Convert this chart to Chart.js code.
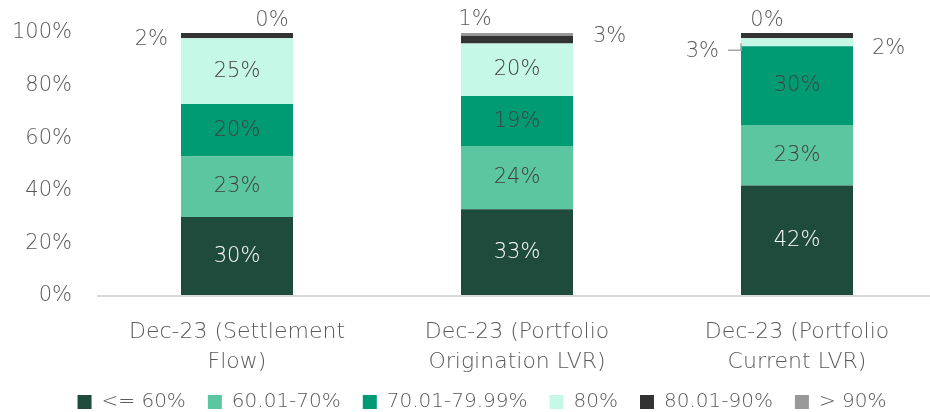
<!DOCTYPE html>
<html>
<head>
<meta charset="utf-8">
<script src="https://cdn.jsdelivr.net/npm/chart.js@4.4.1/dist/chart.umd.min.js"></script>
<style>
  html, body { margin: 0; padding: 0; overflow: hidden; background: #ffffff; width: 930px; height: 412px; }
  #wrap { position: absolute; left: 0; top: 0; width: 937px; height: 422px; }
</style>
</head>
<body>
<div id="wrap"><canvas id="c" width="937" height="422"></canvas></div>
<script>
// ---- data ----
const categories = [
  ['Dec-23 (Settlement', 'Flow)'],
  ['Dec-23 (Portfolio', 'Origination LVR)'],
  ['Dec-23 (Portfolio', 'Current LVR)']
];
const seriesNames = ['<= 60%', '60.01-70%', '70.01-79.99%', '80%', '80.01-90%', '> 90%'];
const lvrUpTo60   = [30, 33, 42];
const lvr60to70   = [23, 24, 23];
const lvr70to80   = [20, 19, 30];
const lvr80       = [25, 20, 3];
const lvr80to90   = [2, 3, 2];
const lvrOver90   = [0, 1, 0];
const yTickValues = [0, 20, 40, 60, 80, 100];

// ---- styling ----
const seriesColors = ['#1f4b3d', '#5cc6a0', '#009a73', '#c6f8e8', '#333333', '#999999'];
const insideTextColors = ['#ffffff', '#404040', '#404040', '#404040', '#404040', '#404040'];
const FONT = '"DejaVu Sans", sans-serif';
const TEXT = '#595959';

// placement of the small outside labels (relative to the bar element)
const outsideLabels = [
  {ds: 4, i: 0, ref: 'left',   dx: -13, dy: 4,   align: 'right'},
  {ds: 5, i: 0, ref: 'center', dx: 35,  dy: -12, align: 'center'},
  {ds: 5, i: 1, ref: 'center', dx: -42, dy: -15, align: 'center'},
  {ds: 4, i: 1, ref: 'right',  dx: 20,  dy: -3,  align: 'left'},
  {ds: 5, i: 2, ref: 'center', dx: -30, dy: -12, align: 'center'},
  {ds: 3, i: 2, ref: 'left',   dx: -22, dy: 9,   align: 'right', leader: true},
  {ds: 4, i: 2, ref: 'right',  dx: 19,  dy: 13,  align: 'left'}
];

const seriesData = [lvrUpTo60, lvr60to70, lvr70to80, lvr80, lvr80to90, lvrOver90];

const datasets = seriesNames.map((name, k) => ({
  label: name,
  data: seriesData[k],
  backgroundColor: seriesColors[k],
  borderWidth: 0,
  categoryPercentage: 0.4,
  barPercentage: 1.0
}));

const labelPlugin = {
  id: 'segLabels',
  afterDatasetsDraw(chart) {
    const ctx = chart.ctx;
    ctx.save();
    ctx.font = '200 21px ' + FONT;
    ctx.textBaseline = 'middle';
    chart.data.datasets.forEach((ds, k) => {
      const meta = chart.getDatasetMeta(k);
      meta.data.forEach((bar, i) => {
        const v = ds.data[i];
        if (v < 5) return;
        const cy = (bar.y + bar.base) / 2;
        ctx.fillStyle = insideTextColors[k];
        ctx.textAlign = 'center';
        ctx.fillText(v + '%', bar.x, cy);
      });
    });
    outsideLabels.forEach(p => {
      const bar = chart.getDatasetMeta(p.ds).data[p.i];
      const v = chart.data.datasets[p.ds].data[p.i];
      const half = bar.width / 2;
      const refX = p.ref === 'left' ? bar.x - half : (p.ref === 'right' ? bar.x + half : bar.x);
      const cy = (bar.y + bar.base) / 2;
      ctx.fillStyle = TEXT;
      ctx.textAlign = p.align;
      ctx.fillText(v + '%', refX + p.dx, cy + p.dy);
      if (p.leader) {
        ctx.strokeStyle = '#a6a6a6';
        ctx.lineWidth = 1.5;
        ctx.beginPath();
        ctx.moveTo(refX - 13, cy + 8);
        ctx.lineTo(refX, cy + 8);
        ctx.lineTo(refX, cy + 1);
        ctx.stroke();
      }
    });
    ctx.restore();
  }
};

new Chart(document.getElementById('c'), {
  type: 'bar',
  data: { labels: categories, datasets },
  plugins: [labelPlugin],
  options: {
    responsive: false,
    animation: false,
    devicePixelRatio: 1,
    layout: { padding: { left: 27, right: 0, top: 33, bottom: 0 } },
    plugins: {
      legend: {
        position: 'bottom',
        labels: {
          boxWidth: 14,
          boxHeight: 14,
          padding: 22,
          color: TEXT,
          font: { family: FONT, size: 20, weight: '200' }
        }
      },
      tooltip: { enabled: false }
    },
    scales: {
      x: {
        stacked: true,
        grid: { display: false },
        border: { display: false },
        ticks: {
          color: TEXT,
          padding: 13,
          maxRotation: 0,
          font: { family: FONT, size: 22, weight: '200', lineHeight: 1.36 }
        },
        afterFit(scale) {
          scale.height = 74;
          scale._computeLabelArea = () => undefined;
        }
      },
      y: {
        stacked: true,
        min: 0,
        max: 100,
        afterBuildTicks(scale) { scale.ticks = yTickValues.map(v => ({ value: v })); },
        grid: {
          drawTicks: false,
          lineWidth: 2,
          color: c => (c.tick && c.tick.value === 0 ? '#d9d9d9' : 'rgba(0,0,0,0)')
        },
        border: { display: false },
        ticks: {
          color: TEXT,
          padding: 25,
          font: { family: FONT, size: 21, weight: '200' },
          callback: v => v + '%'
        },
        afterFit(scale) {
          scale.width = 70;
          scale.paddingTop = 0;
          scale.paddingBottom = 0;
          scale._computeLabelArea = () => undefined;
        }
      }
    }
  }
});
</script>
</body>
</html>
